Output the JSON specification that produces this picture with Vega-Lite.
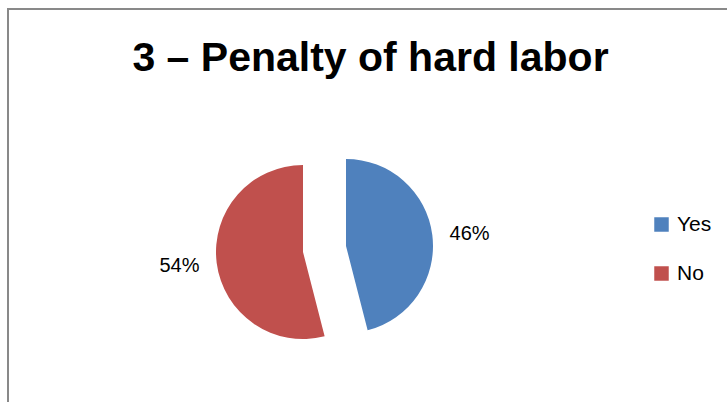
{
  "$schema": "https://vega.github.io/schema/vega-lite/v6.json",
  "width": 725,
  "height": 400,
  "autosize": {"type": "none"},
  "padding": {"left": 8, "top": 9, "right": 0, "bottom": 0},
  "background": "white",
  "view": {"stroke": "#898989", "strokeWidth": 2},
  "title": {
    "text": "3 – Penalty of hard labor",
    "anchor": "middle",
    "frame": "group",
    "orient": "top",
    "offset": -65,
    "dy": 38,
    "baseline": "alphabetic",
    "font": "Liberation Sans",
    "fontSize": 41,
    "fontWeight": "bold",
    "color": "#000000"
  },
  "data": {
    "values": [
      {"answer": "Yes", "pct": 46, "label": "46%"},
      {"answer": "No", "pct": 54, "label": "54%"}
    ]
  },
  "encoding": {
    "theta": {"field": "pct", "type": "quantitative", "stack": true},
    "order": {"field": "answer", "sort": "descending"}
  },
  "layer": [
    {
      "mark": {
        "type": "arc",
        "outerRadius": 87,
        "xOffset": {"expr": "datum.answer === 'Yes' ? -24.5 : -67.5"},
        "yOffset": {"expr": "datum.answer === 'Yes' ? 37 : 43"}
      },
      "encoding": {
        "color": {
          "field": "answer",
          "type": "nominal",
          "scale": {"domain": ["Yes", "No"], "range": ["#4F81BD", "#C0504D"]},
          "legend": {
            "title": null,
            "orient": "none",
            "legendX": 643,
            "legendY": 205,
            "symbolType": "square",
            "symbolSize": 210,
            "symbolStrokeWidth": 0,
            "labelFontSize": 21,
            "labelFont": "Liberation Sans",
            "labelColor": "#000000",
            "rowPadding": 27,
            "labelOffset": 5
          }
        }
      }
    },
    {
      "mark": {
        "type": "text",
        "radius": 123,
        "font": "Liberation Sans",
        "fontSize": 20,
        "color": "#000000",
        "align": "center",
        "baseline": "middle",
        "xOffset": {"expr": "datum.answer === 'Yes' ? -23 : -69"},
        "yOffset": {"expr": "datum.answer === 'Yes' ? 40 : 42"}
      },
      "encoding": {
        "text": {"field": "label", "type": "nominal"},
        "detail": {"field": "answer", "type": "nominal"}
      }
    }
  ]
}
